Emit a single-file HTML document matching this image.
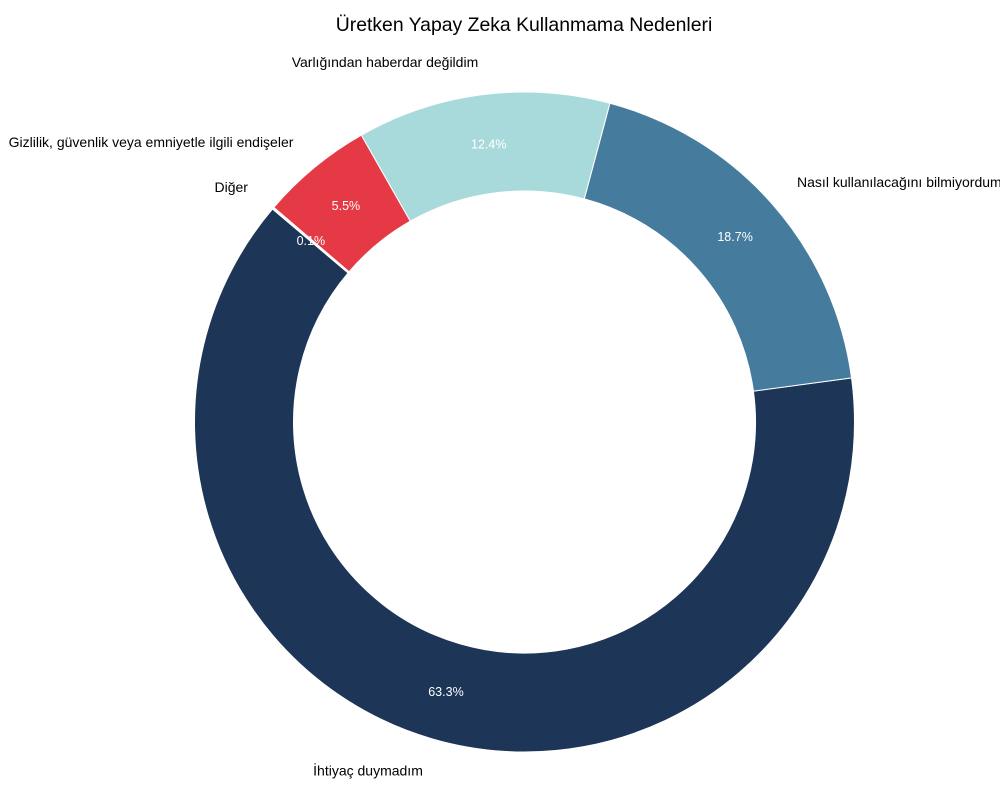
<!DOCTYPE html>
<html><head><meta charset="utf-8"><style>
html,body{margin:0;padding:0;background:#fff;}
svg{display:block;font-family:"Liberation Sans",sans-serif;}
</style></head><body>
<svg id="c" width="1000" height="800" viewBox="0 0 1000 800" xmlns="http://www.w3.org/2000/svg">
<text x="524" y="31" text-anchor="middle" font-size="19.4" fill="#000">Üretken Yapay Zeka Kullanmama Nedenleri</text>
</svg>
<script>
const svg=document.getElementById('c');
const cx=524.5,cy=422,R=330,r=231;
const data=[
 ["İhtiyaç duymadım",63.3,"#1d3557"],
 ["Nasıl kullanılacağını bilmiyordum",18.7,"#457b9d"],
 ["Varlığından haberdar değildim",12.4,"#a8dadc"],
 ["Gizlilik, güvenlik veya emniyetle ilgili endişeler",5.5,"#e63946"],
 ["Diğer",0.1,"#f1faee"]];
const tot=data.reduce((a,d)=>a+d[1],0);
let a=139.8;
const NS="http://www.w3.org/2000/svg";
function pt(rad,deg){const t=deg*Math.PI/180;return [cx+rad*Math.cos(t),cy-rad*Math.sin(t)];}
for(const d of data){
 const span=d[1]/tot*360, a2=a+span, large=span>180?1:0;
 const p1=pt(R,a),p2=pt(R,a2),p3=pt(r,a2),p4=pt(r,a);
 const p=document.createElementNS(NS,'path');
 p.setAttribute('d',`M${p1} A${R},${R} 0 ${large} 0 ${p2} L${p3} A${r},${r} 0 ${large} 1 ${p4} Z`);
 p.setAttribute('fill',d[2]);p.setAttribute('stroke','#fff');p.setAttribute('stroke-width','1');
 svg.appendChild(p);
 const m=a+span/2;
 const lp=pt(R*1.1,m);
 const t=document.createElementNS(NS,'text');
 t.setAttribute('x',lp[0]);t.setAttribute('y',lp[1]+5);
 t.setAttribute('text-anchor',lp[0]>cx?'start':'end');
 t.setAttribute('font-size','14');t.textContent=d[0];svg.appendChild(t);
 const pp=pt(R*0.85,m);
 const t2=document.createElementNS(NS,'text');
 t2.setAttribute('x',pp[0]);t2.setAttribute('y',pp[1]+4.5);
 t2.setAttribute('text-anchor','middle');t2.setAttribute('fill','#fff');
 t2.setAttribute('font-size','12.5');t2.textContent=d[1].toFixed(1)+'%';svg.appendChild(t2);
 a=a2;
}
</script>
</body></html>
